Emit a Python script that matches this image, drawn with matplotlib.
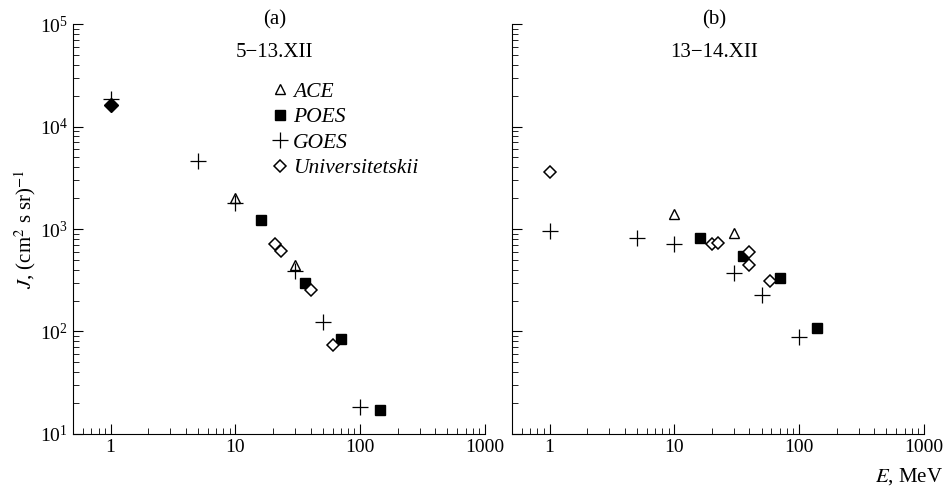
import numpy as np
import matplotlib
matplotlib.use('Agg')
import matplotlib.pyplot as plt
from matplotlib.ticker import LogLocator, NullFormatter

plt.rcParams['font.family'] = 'Liberation Serif'
plt.rcParams['mathtext.fontset'] = 'stix'

# panel (a) 5-13.XII
a_ace_E = [10, 30]
a_ace_J = [2000, 450]
a_poes_E = [16, 36, 70, 143]
a_poes_J = [1230, 296, 84, 17.3]
a_goes_E = [1, 5, 10, 30, 50, 100]
a_goes_J = [18600, 4650, 1790, 385, 125, 18.3]
a_univ_E = [20.6, 23, 40, 61]
a_univ_J = [718, 608, 255, 74]
a_univ_low_E = [1]      # drawn filled at 1 MeV
a_univ_low_J = [16300]

# panel (b) 13-14.XII
b_ace_E = [10, 30]
b_ace_J = [1400, 918]
b_poes_E = [16, 35.5, 70, 140]
b_poes_J = [820, 540, 332, 109]
b_goes_E = [1, 5, 10, 30, 50, 100]
b_goes_J = [955, 815, 718, 372, 228, 89]
b_univ_E = [1, 20, 22.2, 40, 40, 58]
b_univ_J = [3590, 706, 733, 596, 448, 308]

fig = plt.figure(figsize=(9.46, 4.9), dpi=100)
ax1 = fig.add_axes([0.0772, 0.1143, 0.4355, 0.8367])
ax2 = fig.add_axes([0.5412, 0.1143, 0.4355, 0.8367])


def draw(ax, ace, poes, goes, univ):
    ax.plot(*ace, ls='none', marker='^', ms=7, mfc='white', mec='black', mew=1.0, label='ACE')
    ax.plot(*poes, ls='none', marker='s', ms=6.5, mfc='black', mec='black', label='POES')
    ax.plot(*goes, ls='none', marker='+', ms=11, mec='black', mew=0.9, label='GOES')
    ax.plot(*univ, ls='none', marker='D', ms=6.5, mfc='white', mec='black', mew=1.1, label='Universitetskii')


for ax in (ax1, ax2):
    ax.set_xscale('log')
    ax.set_yscale('log')
    ax.set_xlim(0.5, 1000)
    ax.set_ylim(10, 1e5)
    ax.spines['top'].set_visible(False)
    ax.spines['right'].set_visible(False)
    ax.tick_params(which='both', direction='in', labelsize=14)
    ax.tick_params(which='major', length=7)
    ax.tick_params(which='minor', length=4)
    ax.xaxis.set_minor_locator(LogLocator(base=10, subs=np.arange(2, 10), numticks=20))
    ax.xaxis.set_minor_formatter(NullFormatter())
    ax.yaxis.set_minor_formatter(NullFormatter())
    ax.set_xticks([1, 10, 100, 1000])
    ax.set_xticklabels(['1', '10', '100', '1000'])

draw(ax1, (a_ace_E, a_ace_J), (a_poes_E, a_poes_J), (a_goes_E, a_goes_J), (a_univ_E, a_univ_J))
ax1.plot(a_univ_low_E, a_univ_low_J, ls='none', marker='D', ms=7, mfc='black', mec='black')
draw(ax2, (b_ace_E, b_ace_J), (b_poes_E, b_poes_J), (b_goes_E, b_goes_J), (b_univ_E, b_univ_J))

ax2.tick_params(axis='y', which='both', labelleft=False)

ax1.set_ylabel(r'$J$, (cm$^2$ s sr)$^{-1}$', fontsize=15, labelpad=1)
fig.text(0.997, 1 - 477 / 490, r'$E$, MeV', fontsize=15, ha='right', va='center')

for ax, tag, period in ((ax1, '(a)', '5\u221213.XII'), (ax2, '(b)', '13\u221214.XII')):
    ax.text(0.49, 1.01, tag, transform=ax.transAxes, ha='center', va='center', fontsize=15)
    ax.text(0.49, 0.93, period, transform=ax.transAxes, ha='center', va='center', fontsize=15)

leg = ax1.legend(loc='upper left', bbox_to_anchor=(0.455, 0.88), frameon=False,
                 prop={'style': 'italic', 'size': 15.5}, handletextpad=0.1,
                 handlelength=1.0, borderaxespad=0, labelspacing=0.25, numpoints=1)

fig.savefig('out.png', dpi=100)
